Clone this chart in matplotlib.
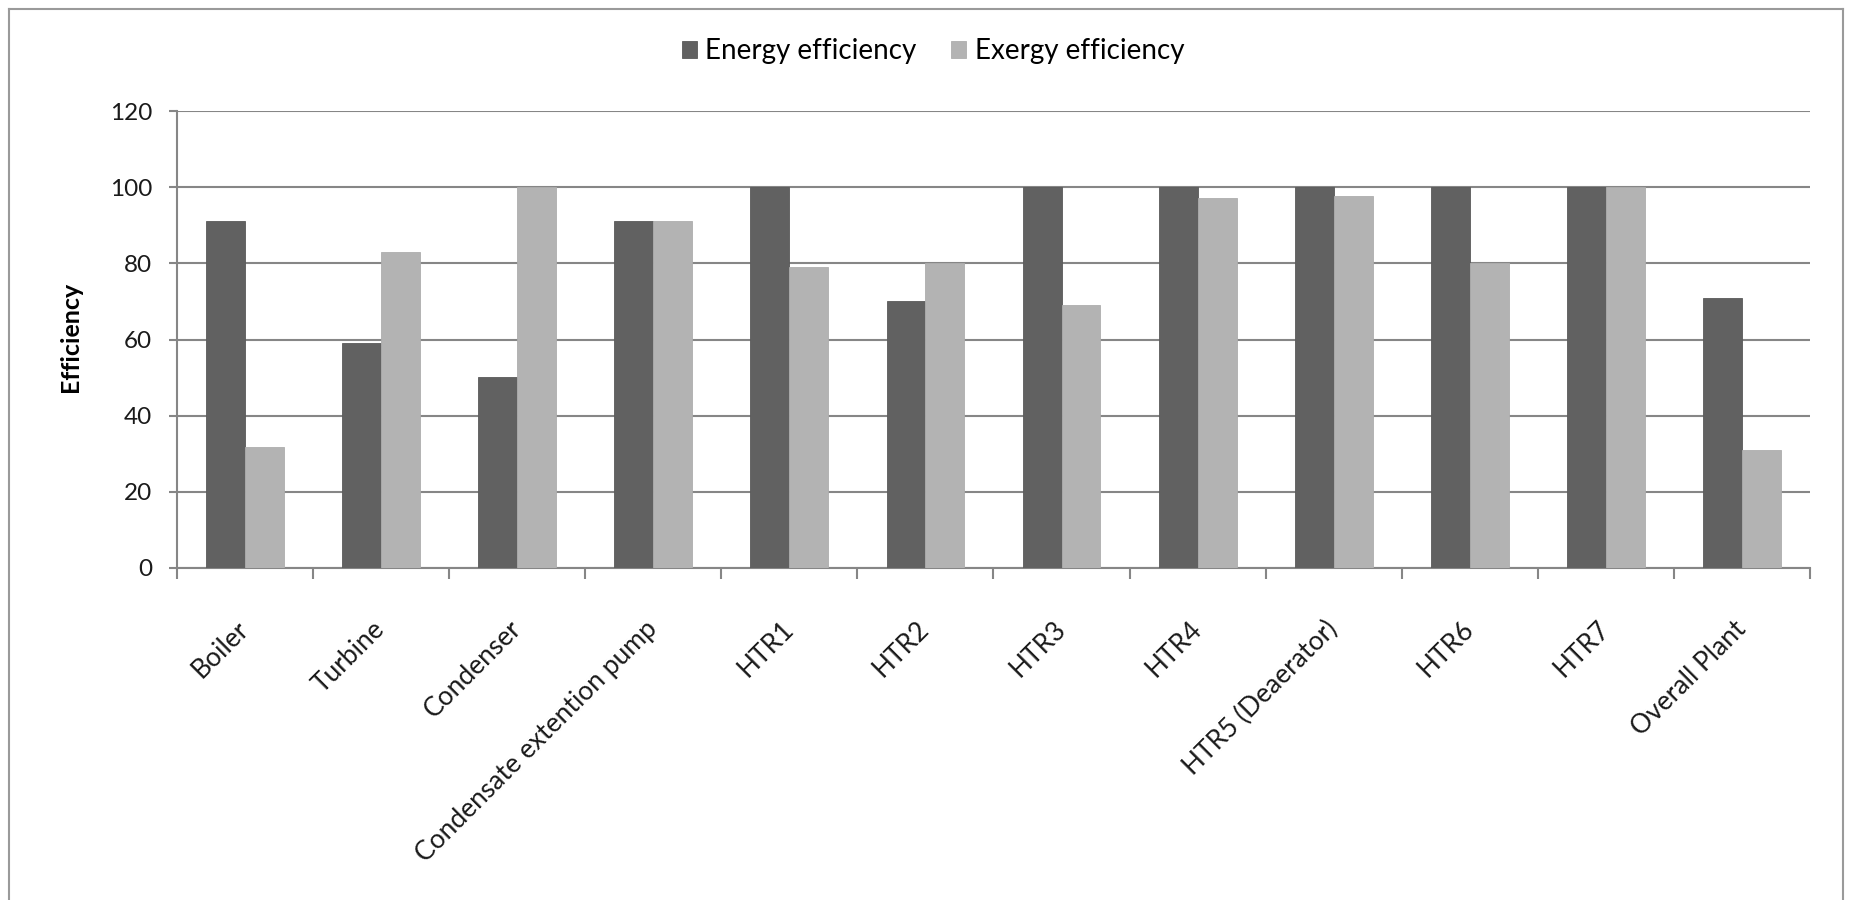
import matplotlib
matplotlib.use("Agg")
import matplotlib.pyplot as plt
from matplotlib.lines import Line2D
import numpy as np

categories = ["Boiler", "Turbine", "Condenser", "Condensate extention pump",
              "HTR1", "HTR2", "HTR3", "HTR4", "HTR5 (Deaerator)", "HTR6",
              "HTR7", "Overall Plant"]
energy_eff = [91.2, 59.0, 50.2, 91.2, 100, 70.1, 100, 100, 100, 100, 100, 70.9]
exergy_eff = [31.8, 82.9, 100, 91.2, 79.1, 80.0, 69.0, 97.2, 97.8, 80.2, 100, 31.1]
y_ticks = [0, 20, 40, 60, 80, 100, 120]

plt.rcParams["font.family"] = ["Lato", "DejaVu Sans"]

W, H = 1853, 900
fig = plt.figure(figsize=(W / 100, H / 100), dpi=100)
ax = fig.add_axes([177 / W, 1 - 568 / H, (1810 - 177) / W, (568 - 111) / H])

grid_c = "#868686"
dark = "#616161"
light = "#b3b3b3"

x = np.arange(len(categories))
bw = 1 / 3.5
ax.bar(x - bw / 2, energy_eff, width=bw, color=dark, edgecolor="#5a5a5a",
       linewidth=0.6, label="Energy efficiency", zorder=3)
ax.bar(x + bw / 2, exergy_eff, width=bw, color=light, edgecolor="#adadad",
       linewidth=0.6, label="Exergy efficiency", zorder=3)

ax.set_xlim(-0.5, len(categories) - 0.5)
ax.set_ylim(0, 120)
ax.set_yticks(y_ticks)
ax.yaxis.grid(True, color=grid_c, linewidth=1.5, zorder=0)
ax.set_axisbelow(True)

for s in ["top", "right"]:
    ax.spines[s].set_visible(False)
for s in ["left", "bottom"]:
    ax.spines[s].set_color(grid_c)
    ax.spines[s].set_linewidth(1.5)

ax.tick_params(axis="y", direction="out", length=6, width=1.5, color=grid_c,
               labelsize=17.5, pad=12, labelcolor="#1a1a1a")

ax.set_xticks(x)
ax.set_xticklabels(categories, rotation=45, ha="right", va="center",
                   rotation_mode="anchor", fontsize=19, color="#1a1a1a")
ax.tick_params(axis="x", which="major", length=0, pad=41)
ax.set_xticks(np.arange(-0.5, len(categories), 1.0), minor=True)
ax.tick_params(axis="x", which="minor", direction="out", length=8, width=1.5,
               color=grid_c)

fig.text(71 / W, 1 - 337 / H, "Efficiency", rotation=90, fontsize=18,
         fontweight="bold", ha="center", va="center", color="#000000")

leg = fig.legend(loc="center", bbox_to_anchor=(0.5035, 1 - 51 / H), ncol=2,
                 frameon=False, fontsize=20, handlelength=0.55, handleheight=0.55,
                 handletextpad=0.3, columnspacing=1.25)

# chart area frame
frame_c = "#9a9a9a"
fig.add_artist(Line2D([9 / W, 9 / W], [0, 1 - 9 / H], color=frame_c, lw=1.5))
fig.add_artist(Line2D([1843 / W, 1843 / W], [0, 1 - 9 / H], color=frame_c, lw=1.5))
fig.add_artist(Line2D([9 / W, 1843 / W], [1 - 9 / H, 1 - 9 / H], color=frame_c, lw=1.5))

fig.savefig("out.png", dpi=100, facecolor="white")
